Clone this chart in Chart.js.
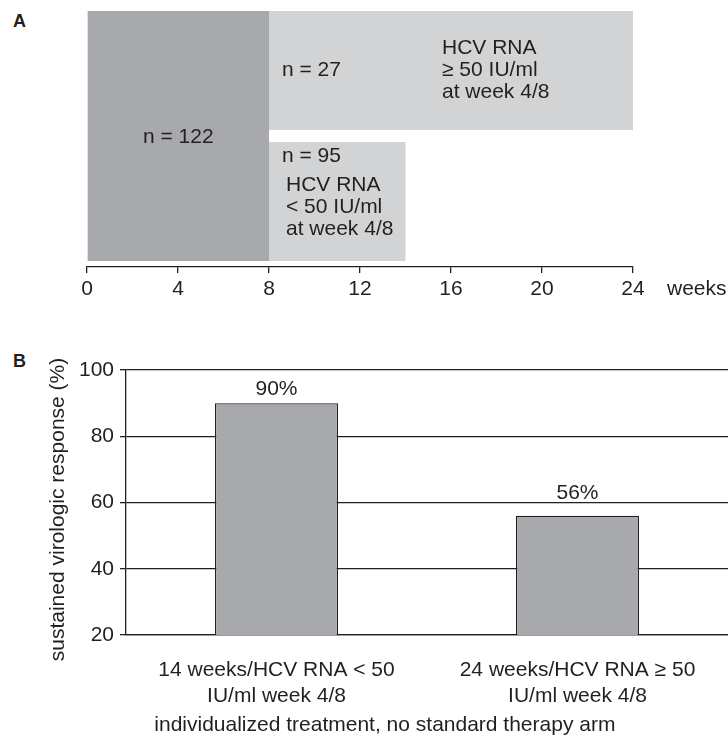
<!DOCTYPE html>
<html>
<head>
<meta charset="utf-8">
<title>Individualized treatment duration and SVR</title>
<script src="https://cdn.jsdelivr.net/npm/chart.js@4.4.1/dist/chart.umd.min.js"></script>
<style>
  html, body { margin: 0; padding: 0; background: #fff; }
  body { width: 728px; height: 737px; position: relative; overflow: hidden; font-family: 'Liberation Sans', Arial, sans-serif; color: #231f20; }
  .panel { position: absolute; left: 0; width: 728px; }
  .letter { position: absolute; left: 13px; font-size: 18px; font-weight: bold; line-height: 1; }
</style>
</head>
<body>
<div class="letter" style="top:12px">A</div>
<div class="letter" style="top:352px">B</div>
<div class="panel" style="top:0; height:305px"><canvas id="chartA"></canvas></div>
<div class="panel" style="top:320px; height:417px"><canvas id="chartB"></canvas></div>

<script>
// ---- panel A: treatment schedule ----
const weekMin = 0;
const weekMax = 24;
const weekStep = 4;
const leadInWeeks = [0, 8];
const leadInCount = 122;
const rowLabels = ['HCV RNA >= 50', 'HCV RNA < 50'];
const rowWeeks = [[8, 24], [8, 14]];
const rowCounts = [27, 95];
const rowNotes = [
  ['HCV RNA', '\u2265 50 IU/ml', 'at week 4/8'],
  ['HCV RNA', '< 50 IU/ml', 'at week 4/8']
];

// ---- panel B: sustained virologic response ----
const armLabels = [
  ['14 weeks/HCV RNA < 50', 'IU/ml week 4/8'],
  ['24 weeks/HCV RNA \u2265 50', 'IU/ml week 4/8']
];
const svrPercent = [90, 56];
const svrMin = 20;
const svrMax = 100;
const svrStep = 20;

const ink = '#231f20';
const family = "'Liberation Sans', Arial, Helvetica, sans-serif";
const fs = 21;
Chart.defaults.font.family = family;
Chart.defaults.font.size = fs;
Chart.defaults.color = ink;

// text inside the schedule boxes
const boxLabels = {
  id: 'boxLabels',
  afterDatasetsDraw(chart) {
    const ctx = chart.ctx;
    const lead = chart.getDatasetMeta(0).data[0];
    const rows = chart.getDatasetMeta(1).data;
    const lh = 22;
    ctx.save();
    ctx.fillStyle = ink;
    ctx.font = fs + 'px ' + family;
    ctx.textBaseline = 'middle';

    ctx.textAlign = 'center';
    ctx.fillText('n = ' + leadInCount, (lead.x + lead.base) / 2, lead.y + 1);

    ctx.textAlign = 'left';
    const up = rows[0];
    ctx.fillText('n = ' + rowCounts[0], up.base + 13, up.y);
    rowNotes[0].forEach((line, i) => ctx.fillText(line, up.base + 173, up.y + (i - 1) * lh));

    const lo = rows[1];
    const loTop = lo.y - lo.height / 2;
    ctx.fillText('n = ' + rowCounts[1], lo.base + 13, loTop + 14);
    rowNotes[1].forEach((line, i) => ctx.fillText(line, lo.base + 17, loTop + 43 + i * lh));

    // unit after the last tick
    const xs = chart.scales.x;
    ctx.fillText('weeks', xs.right + 34, xs.top + 22);
    ctx.restore();
  }
};

new Chart(document.getElementById('chartA'), {
  type: 'bar',
  data: {
    labels: rowLabels,
    datasets: [
      {
        label: 'weeks 0-8',
        data: [leadInWeeks],
        yAxisID: 'y2',
        backgroundColor: '#a7a9ac',
        borderWidth: 0,
        barPercentage: 0.954,
        categoryPercentage: 1,
        grouped: false
      },
      {
        label: 'after week 8',
        data: rowWeeks,
        yAxisID: 'y',
        backgroundColor: '#d1d3d4',
        borderWidth: 0,
        barPercentage: 0.908,
        categoryPercentage: 1,
        grouped: false
      }
    ]
  },
  options: {
    indexAxis: 'y',
    responsive: true,
    maintainAspectRatio: false,
    animation: false,
    devicePixelRatio: 1,
    layout: { padding: { left: 87, right: 95, top: 5, bottom: 4 } },
    plugins: { legend: { display: false }, tooltip: { enabled: false } },
    scales: {
      x: {
        type: 'linear',
        min: weekMin,
        max: weekMax,
        afterFit: (s) => { s.height = 34; },
        ticks: { stepSize: weekStep, padding: 3.5, font: { size: fs }, color: ink },
        grid: { drawOnChartArea: false, drawTicks: true, tickLength: 6, color: ink, lineWidth: 1.3 },
        border: { display: true, color: ink, width: 1.3 }
      },
      y: { type: 'category', display: false },
      y2: { type: 'category', labels: ['all patients'], display: false }
    }
  },
  plugins: [boxLabels]
});

// percentage labels above the bars (kept clear of grid lines), axis titles
const valueLabels = {
  id: 'valueLabels',
  afterDatasetsDraw(chart) {
    const ctx = chart.ctx;
    const ys = chart.scales.y;
    const area = chart.chartArea;
    ctx.save();
    ctx.fillStyle = ink;
    ctx.font = fs + 'px ' + family;
    ctx.textAlign = 'center';
    ctx.textBaseline = 'alphabetic';
    chart.getDatasetMeta(0).data.forEach((bar, i) => {
      let base = bar.y - 8;
      ys.ticks.forEach((t) => {
        const p = ys.getPixelForValue(t.value);
        if (p < bar.y - 1 && p > base - 17) base = p - 3.5;
      });
      ctx.fillText(svrPercent[i] + '%', bar.x, base);
    });

    ctx.textBaseline = 'middle';
    ctx.fillText('individualized treatment, no standard therapy arm',
      area.left + (area.right - area.left) * 0.43, chart.scales.x.bottom + 20);

    ctx.translate(58, (area.top + area.bottom) / 2 + 7);
    ctx.rotate(-Math.PI / 2);
    ctx.fillText('sustained virologic response (%)', 0, 0);
    ctx.restore();
  }
};

new Chart(document.getElementById('chartB'), {
  type: 'bar',
  data: {
    labels: armLabels,
    datasets: [{
      label: 'SVR (%)',
      data: svrPercent,
      backgroundColor: '#a7a9ac',
      borderColor: ink,
      borderWidth: 1.3,
      borderSkipped: 'start',
      barPercentage: 0.409,
      categoryPercentage: 1
    }]
  },
  options: {
    responsive: true,
    maintainAspectRatio: false,
    animation: false,
    devicePixelRatio: 1,
    layout: { padding: { left: 0, right: 0, top: 50, bottom: 32 } },
    plugins: { legend: { display: false }, tooltip: { enabled: false } },
    scales: {
      x: {
        afterFit: (s) => { s.height = 70; },
        grid: { display: false },
        border: { display: true, color: ink, width: 1.3 },
        ticks: { padding: 15, font: { size: fs, lineHeight: 1.2 }, color: ink, maxRotation: 0, autoSkip: false }
      },
      y: {
        min: svrMin,
        max: svrMax,
        afterFit: (s) => { s.width = 126; },
        ticks: { stepSize: svrStep, padding: 6, font: { size: fs }, color: ink },
        grid: { color: ink, lineWidth: 1.3, drawTicks: true, tickLength: 6 },
        border: { display: true, color: ink, width: 1.3 }
      }
    }
  },
  plugins: [valueLabels]
});
</script>
</body>
</html>
